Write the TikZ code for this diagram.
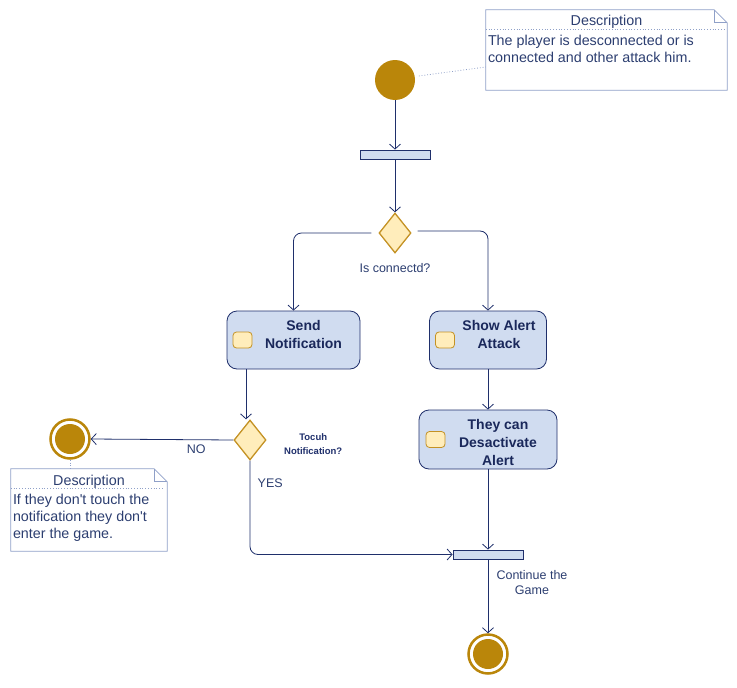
\documentclass[tikz,border=0pt]{standalone}
\usepackage{fontspec}
\setmainfont{Liberation Sans}
\usetikzlibrary{positioning,shapes.geometric,arrows.meta}
\definecolor{navy}{RGB}{31,47,107}
\definecolor{inkblue}{RGB}{44,62,112}
\definecolor{gold}{RGB}{186,134,10}
\definecolor{ochre}{RGB}{196,146,36}
\definecolor{paleblue}{RGB}{208,220,240}
\definecolor{paleyellow}{RGB}{255,237,187}
\definecolor{notegray}{RGB}{143,160,200}

\begin{document}
\begin{tikzpicture}[x=1pt, y=-1pt, >={Straight Barb[length=5pt,width=11pt]},
startnode/.style={circle, fill=gold, minimum size=40pt, inner sep=0pt},
endnode/.style={circle, draw=gold, line width=2.5pt, fill=white, minimum size=39pt, inner sep=0pt, path picture={\fill[gold] (path picture bounding box.center) circle (15pt);}},
forkbar/.style={rectangle, draw=navy, fill=paleblue, line width=0.8pt, minimum width=70pt, minimum height=9pt, inner sep=0pt},
decnode/.style={diamond, draw=ochre, fill=paleyellow, line width=1.3pt, minimum width=32pt, minimum height=40pt, inner sep=0pt},
actnode/.style={rectangle, rounded corners=10pt, draw=navy, fill=paleblue, line width=0.8pt, inner sep=0pt},
iconnode/.style={rectangle, rounded corners=3.5pt, draw=ochre, fill=paleyellow, line width=0.8pt, minimum width=19pt, minimum height=16pt, inner sep=0pt},
acttext/.style={align=center, text=navy!85!black, font=\fontsize{14}{18}\selectfont\bfseries},
smalltext/.style={text=inkblue, font=\fontsize{12.5}{15}\selectfont},
tinytext/.style={align=center, text=navy, font=\fontsize{9.5}{14}\selectfont\bfseries},
notebox/.style={rectangle, inner sep=0pt},
notetitle/.style={text=inkblue, font=\fontsize{14.3}{17}\selectfont},
notebody/.style={align=left, text=inkblue, inner sep=1pt, font=\fontsize{14.3}{17}\selectfont},
noteline/.style={draw=notegray, line width=0.8pt},
dotline/.style={draw=notegray, dotted, line width=0.8pt},
flow/.style={draw=navy, line width=0.8pt},
]
\useasboundingbox (0,0) rectangle (737,688);

%Nodes
\node[startnode]   (start)    at (395,80)   {};
\node[forkbar]     (fork1)    at (395,154.5) {};
\node[decnode]     (dec1)     at (395,233)  {};
\node[smalltext]   (declabel) [below=6pt of dec1] {Is connectd?};

\node[actnode, minimum width=133pt, minimum height=58pt] (send)  at (293.5,340) {};
\node[iconnode]    (sendicon) [right=6pt of send.west] {};
\node[acttext]     (sendtext) at ([xshift=10pt,yshift=6pt]send.center) {Send\\Notification};

\node[actnode, minimum width=117pt, minimum height=58pt] (alert) at (488,340) {};
\node[iconnode]    (alerticon) [right=6pt of alert.west] {};
\node[acttext]     (alerttext) at ([xshift=11pt,yshift=6pt]alert.center) {Show Alert\\Attack};

\node[actnode, minimum width=138pt, minimum height=59pt] (deact) at (488,439.5) {};
\node[iconnode]    (deacticon) [right=7pt of deact.west] {};
\node[acttext]     (deacttext) at ([xshift=10pt,yshift=-3pt]deact.center) {They can\\Desactivate\\Alert};

\node[decnode]     (dec2)     at (250,440)  {};
\node[tinytext]    (touchlabel) [right=14pt of dec2, yshift=-4pt] {Tocuh\\Notification?};
\node[endnode]     (endno)    at (70,439)   {};

\node[forkbar]     (fork2)    at (488,554.5) {};
\node[smalltext, align=center] (contlabel) at (532,583) {Continue the\\Game};
\node[endnode]     (endgame)  at (488,654)  {};

%Notes
\node[notebox, minimum width=241pt, minimum height=80pt] (note1) at (606.5,50) {};
\draw[noteline] (note1.north west) -- ([xshift=-13pt]note1.north east) -- ([yshift=-13pt]note1.north east) -- (note1.south east) -- (note1.south west) -- cycle;
\draw[noteline] ([xshift=-13pt]note1.north east) |- ([yshift=-13pt]note1.north east);
\node[notetitle]   (note1title) at ([yshift=-12.5pt]note1.north) {Description};
\draw[dotline] ([yshift=-20pt]note1.north west) -- ([xshift=-3pt,yshift=-20pt]note1.north east);
\node[notebody, anchor=north west] (note1body) at ([xshift=1pt,yshift=-24pt]note1.north west) {The player is desconnected or is\\connected and other attack him.};

\node[notebox, minimum width=156pt, minimum height=82pt] (note2) at (89,510) {};
\draw[noteline] (note2.north west) -- ([xshift=-13pt]note2.north east) -- ([yshift=-13pt]note2.north east) -- (note2.south east) -- (note2.south west) -- cycle;
\draw[noteline] ([xshift=-13pt]note2.north east) |- ([yshift=-13pt]note2.north east);
\node[notetitle]   (note2title) at ([yshift=-12.5pt]note2.north) {Description};
\draw[dotline] ([yshift=-20pt]note2.north west) -- ([xshift=-3pt,yshift=-20pt]note2.north east);
\node[notebody, anchor=north west] (note2body) at ([xshift=1pt,yshift=-24pt]note2.north west) {If they don\textquotesingle t touch the\\notification they don\textquotesingle t\\enter the game.};

%Lines
\draw[dotline, shorten <=4pt] (start.10) -- ([yshift=-17pt]note1.west);
\draw[dotline] (endno.south) -- (endno.south |- note2.north);
\draw[flow, ->] (start) -- (fork1);
\draw[flow, ->] (fork1) -- (dec1);
\draw[flow, ->, rounded corners=8pt] ([xshift=-7pt]dec1.west) -| (send.north);
\draw[flow, ->, rounded corners=8pt] ([xshift=6pt,yshift=2pt]dec1.east) -| (alert.north);
\draw[flow, ->] ([xshift=-47.5pt]send.south) -- ([xshift=-47.5pt]send.south |- dec2.north);
\draw[flow, ->] (dec2.west) -- (endno.east) node[smalltext, pos=0.26, below=1pt] {NO};
\draw[flow, ->, rounded corners=8pt] (dec2.south) |- node[smalltext, pos=0.12, right=4pt] {YES} (fork2.west);
\draw[flow, ->] (alert) -- (deact);
\draw[flow, ->] (deact) -- (fork2);
\draw[flow, ->] (fork2) -- (endgame);
\end{tikzpicture}
\end{document}
